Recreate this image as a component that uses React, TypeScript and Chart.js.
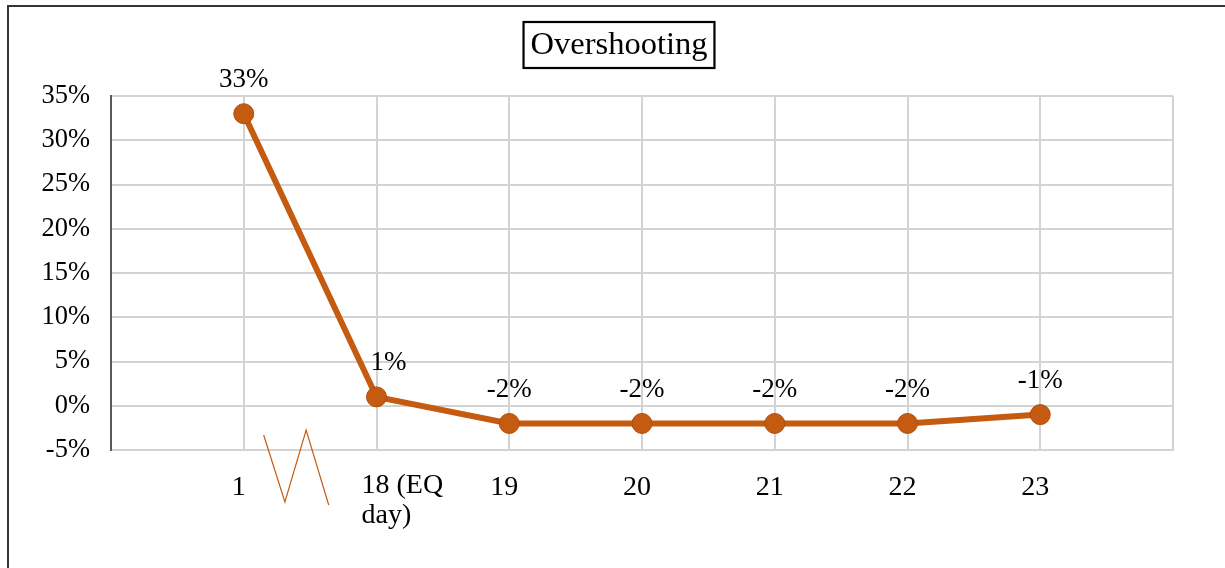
import { useEffect, useRef } from "react";
import { Chart, registerables } from "chart.js";

Chart.register(...registerables);

// ---- data ----
const categories: string[] = ["", "1", "18 (EQ day)", "19", "20", "21", "22", "23", ""];
const overshooting: (number | null)[] = [null, 33, 1, -2, -2, -2, -2, -1, null];
const yTickValues: number[] = [-5, 0, 5, 10, 15, 20, 25, 30, 35];
const titleText = "Overshooting";
const breakAfterIndex = 1; // axis break drawn between index 1 and 2
const customLabelIndex = 2; // wrapped, left-aligned label

// ---- styles ----
const SERIF = "'Liberation Serif', 'Times New Roman', Times, serif";
const ORANGE = "#C55A11";
const GRID = "#D3D3D3";

const decorPlugin = {
  id: "decor",
  afterDraw(chart: any) {
    const ctx: CanvasRenderingContext2D = chart.ctx;
    const { chartArea, scales } = chart;
    const xs = scales.x;
    ctx.save();

    // Title in a box
    ctx.font = `32.5px ${SERIF}`;
    ctx.fillStyle = "#000";
    ctx.textAlign = "center";
    ctx.textBaseline = "middle";
    const cx = 619;
    const cy = 45;
    ctx.fillText(titleText, cx, cy);
    const tw = ctx.measureText(titleText).width;
    ctx.lineWidth = 2.2;
    ctx.strokeStyle = "#000";
    ctx.strokeRect(cx - tw / 2 - 7, cy - 23, tw + 14, 46);

    // Data labels
    const meta = chart.getDatasetMeta(0);
    ctx.font = `27px ${SERIF}`;
    meta.data.forEach((pt: any, i: number) => {
      const v = overshooting[i];
      if (v === null || v === undefined) return;
      const dx = i === customLabelIndex ? 12 : 0;
      ctx.fillText(`${v}%`, pt.x + dx, pt.y - 34);
    });

    // Custom wrapped x label (left-aligned, like the original)
    ctx.font = `28px ${SERIF}`;
    ctx.textAlign = "left";
    const lx = xs.getPixelForValue(customLabelIndex) - 15;
    const words = categories[customLabelIndex].split(" ");
    const line1 = words.slice(0, 2).join(" ");
    const line2 = words.slice(2).join(" ");
    ctx.fillText(line1, lx, chartArea.bottom + 36);
    ctx.fillText(line2, lx, chartArea.bottom + 66);

    // Axis break zigzag
    const x1 = xs.getPixelForValue(breakAfterIndex);
    const x2 = xs.getPixelForValue(breakAfterIndex + 1);
    const w = x2 - x1;
    const b = chartArea.bottom;
    ctx.strokeStyle = ORANGE;
    ctx.lineWidth = 1.2;
    ctx.beginPath();
    ctx.moveTo(x1 + w * 0.15, b - 15);
    ctx.lineTo(x1 + w * 0.31, b + 52);
    ctx.lineTo(x1 + w * 0.47, b - 20);
    ctx.lineTo(x1 + w * 0.64, b + 55);
    ctx.stroke();

    ctx.restore();
  },
};

export default function App() {
  const canvasRef = useRef<HTMLCanvasElement | null>(null);

  useEffect(() => {
    document.body.style.margin = "0";
    const canvas = canvasRef.current;
    if (!canvas) return;
    const chart = new Chart(canvas, {
      type: "line",
      data: {
        labels: categories,
        datasets: [
          {
            label: titleText,
            data: overshooting,
            borderColor: ORANGE,
            backgroundColor: ORANGE,
            borderWidth: 6,
            pointRadius: 10,
            pointHoverRadius: 10,
            pointBackgroundColor: ORANGE,
            pointBorderColor: "#B04D0C",
            pointBorderWidth: 1,
            tension: 0,
          },
        ],
      },
      options: {
        animation: false,
        responsive: true,
        maintainAspectRatio: false,
        layout: { padding: { left: 0, top: 96, right: 52, bottom: 0 } },
        plugins: {
          legend: { display: false },
          title: { display: false },
          tooltip: { enabled: false },
        },
        scales: {
          x: {
            type: "category",
            offset: false,
            grid: { color: GRID, lineWidth: 2, drawTicks: false },
            border: { color: GRID, width: 2 },
            ticks: {
              autoSkip: false,
              maxRotation: 0,
              minRotation: 0,
              padding: 21,
              labelOffset: -5,
              color: "#000",
              font: { family: SERIF, size: 28 },
              callback: (_v: any, i: number) =>
                i === customLabelIndex ? "" : categories[i],
            },
            afterFit: (scale: any) => {
              scale.height = 118;
            },
          },
          y: {
            min: yTickValues[0],
            max: yTickValues[yTickValues.length - 1],
            grid: { color: GRID, lineWidth: 2, drawTicks: false },
            border: { color: "#595959", width: 2 },
            afterBuildTicks: (scale: any) => {
              scale.ticks = yTickValues.map((v) => ({ value: v }));
            },
            ticks: {
              padding: 21,
              color: "#000",
              font: { family: SERIF, size: 26.5 },
              callback: (v: any) => `${v}%`,
            },
            afterFit: (scale: any) => {
              scale.width = 111;
            },
          },
        },
      },
      plugins: [decorPlugin],
    });
    return () => chart.destroy();
  }, []);

  return (
    <div style={{ position: "relative", width: 1225, height: 568, background: "#fff" }}>
      <canvas ref={canvasRef} />
      <div
        style={{
          position: "absolute",
          left: 7,
          top: 5,
          right: 0,
          bottom: 0,
          borderTop: "2px solid #333",
          borderLeft: "2px solid #333",
          pointerEvents: "none",
        }}
      />
    </div>
  );
}
